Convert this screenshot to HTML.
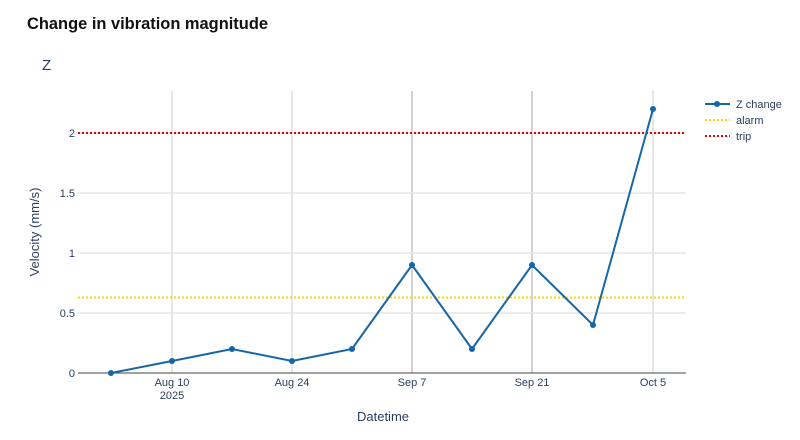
<!DOCTYPE html>
<html><head><meta charset="utf-8"><style>
body{margin:0;background:#fff;width:800px;height:435px;overflow:hidden}
text{font-family:"Liberation Sans",sans-serif;}
</style></head><body>
<svg width="800" height="435" xmlns="http://www.w3.org/2000/svg">
<text x="27" y="29" font-size="17" font-weight="bold" fill="#111" textLength="241" lengthAdjust="spacingAndGlyphs">Change in vibration magnitude</text>
<text x="42" y="70" font-size="15" fill="#2a3f5f">Z</text>
<g stroke="#ccc" stroke-width="1">
<line x1="172" y1="91" x2="172" y2="373"/><line x1="292" y1="91" x2="292" y2="373"/>
<line x1="412" y1="91" x2="412" y2="373" stroke="#aaa"/><line x1="532" y1="91" x2="532" y2="373" stroke="#aaa"/>
<line x1="653" y1="91" x2="653" y2="373"/>
</g>
<g stroke="#e6e6e6" stroke-width="1.5">
<line x1="78" y1="313" x2="686" y2="313"/><line x1="78" y1="253" x2="686" y2="253"/>
<line x1="78" y1="193" x2="686" y2="193"/><line x1="78" y1="133" x2="686" y2="133"/>
</g>
<line x1="78" y1="373" x2="686" y2="373" stroke="#444" stroke-width="1"/>
<line x1="78" y1="297.5" x2="686" y2="297.5" stroke="#ffd700" stroke-width="2" stroke-dasharray="2,2"/>
<line x1="78" y1="133" x2="686" y2="133" stroke="#e00" stroke-width="2" stroke-dasharray="2,2"/>
<g font-size="11" fill="#2a3f5f" text-anchor="end">
<text x="75" y="377">0</text><text x="75" y="317">0.5</text><text x="75" y="257">1</text>
<text x="75" y="197">1.5</text><text x="75" y="137">2</text>
</g>
<g font-size="11" fill="#2a3f5f" text-anchor="middle">
<text x="172" y="386">Aug 10</text><text x="172" y="399">2025</text>
<text x="292" y="386">Aug 24</text><text x="412" y="386">Sep 7</text>
<text x="532" y="386">Sep 21</text><text x="653" y="386">Oct 5</text>
</g>
<text x="383" y="421" font-size="13" fill="#2a3f5f" text-anchor="middle">Datetime</text>
<text transform="translate(39,232) rotate(-90)" font-size="13" fill="#2a3f5f" text-anchor="middle">Velocity (mm/s)</text>
<polyline fill="none" stroke="#1565a8" stroke-width="2" points="111,373 172,361 232,349 292,361 352,349 412,265 472,349 532,265 593,325 653,109"/>
<g fill="#1565a8">
<circle cx="111" cy="373" r="3"/><circle cx="172" cy="361" r="3"/><circle cx="232" cy="349" r="3"/>
<circle cx="292" cy="361" r="3"/><circle cx="352" cy="349" r="3"/><circle cx="412" cy="265" r="3"/>
<circle cx="472" cy="349" r="3"/><circle cx="532" cy="265" r="3"/><circle cx="593" cy="325" r="3"/>
<circle cx="653" cy="109" r="3"/>
</g>
<line x1="705" y1="104" x2="730" y2="104" stroke="#1565a8" stroke-width="2"/><circle cx="717" cy="104" r="3" fill="#1565a8"/>
<line x1="705" y1="120" x2="730" y2="120" stroke="#ffd700" stroke-width="2" stroke-dasharray="2,2"/>
<line x1="705" y1="136" x2="730" y2="136" stroke="#e00" stroke-width="2" stroke-dasharray="2,2"/>
<g font-size="11" fill="#2a3f5f">
<text x="736" y="108">Z change</text><text x="736" y="124">alarm</text><text x="736" y="140">trip</text>
</g>
</svg>
</body></html>
